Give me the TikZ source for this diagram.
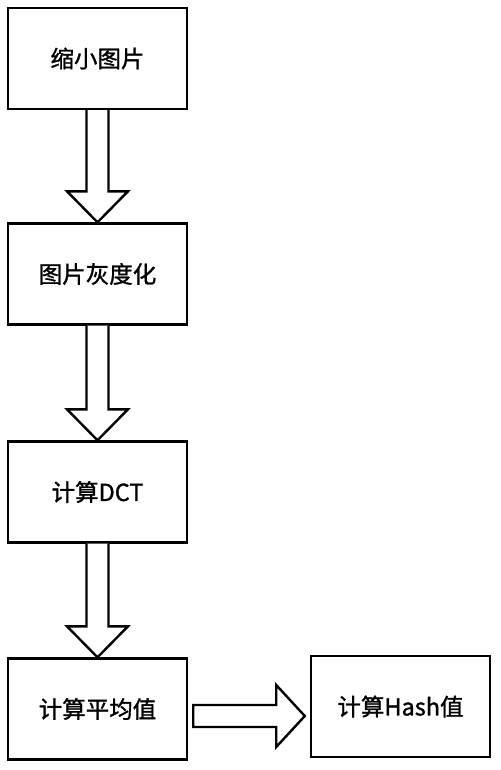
\documentclass[tikz,border=0pt]{standalone}
\usepackage{fontspec}
\newfontfamily\cjk{Noto Sans CJK SC}[FakeBold=1.2]
\usetikzlibrary{calc}
\tikzset{
  box/.style={draw=black, line width=2.4pt, fill=white, minimum width=179pt, minimum height=101pt, inner sep=0pt, font=\cjk\fontsize{23.5pt}{25pt}\selectfont},
  blockarrow/.style={draw=black, line width=2.4pt, fill=white, line join=miter}
}
\newcommand\blockdown[2]{%
  \draw[blockarrow] ($(#1.south)+(-11,0)$) -- ($(#2.north)+(-11,-31)$) -- ($(#2.north)+(-30.5,-31)$) -- (#2.north) -- ($(#2.north)+(30.5,-31)$) -- ($(#2.north)+(11,-31)$) -- ($(#1.south)+(11,0)$);}
\begin{document}
\begin{tikzpicture}[x=1pt,y=-1pt]
\useasboundingbox[fill=white] (0,0) rectangle (500,770);
\node[box] (b1) at (97.5,58.5) {缩小图片};
\node[box] (b2) at (97.5,274) {图片灰度化};
\node[box] (b3) at (97.5,492) {计算DCT};
\node[box] (b4) at (97.5,709) {计算平均值};
\node[box] (b5) at (400.5,706.5) {计算Hash值};
\blockdown{b1}{b2}
\blockdown{b2}{b3}
\blockdown{b3}{b4}
\draw[blockarrow] ($(b4.east)+(5,-4)$) -- ($(b4.east)+(88,-4)$) -- ($(b4.east)+(88,-24)$) -- ($(b5.west)+(-5,9.5)$) -- ($(b4.east)+(88,38)$) -- ($(b4.east)+(88,18)$) -- ($(b4.east)+(5,18)$) -- cycle;
\end{tikzpicture}
\end{document}
